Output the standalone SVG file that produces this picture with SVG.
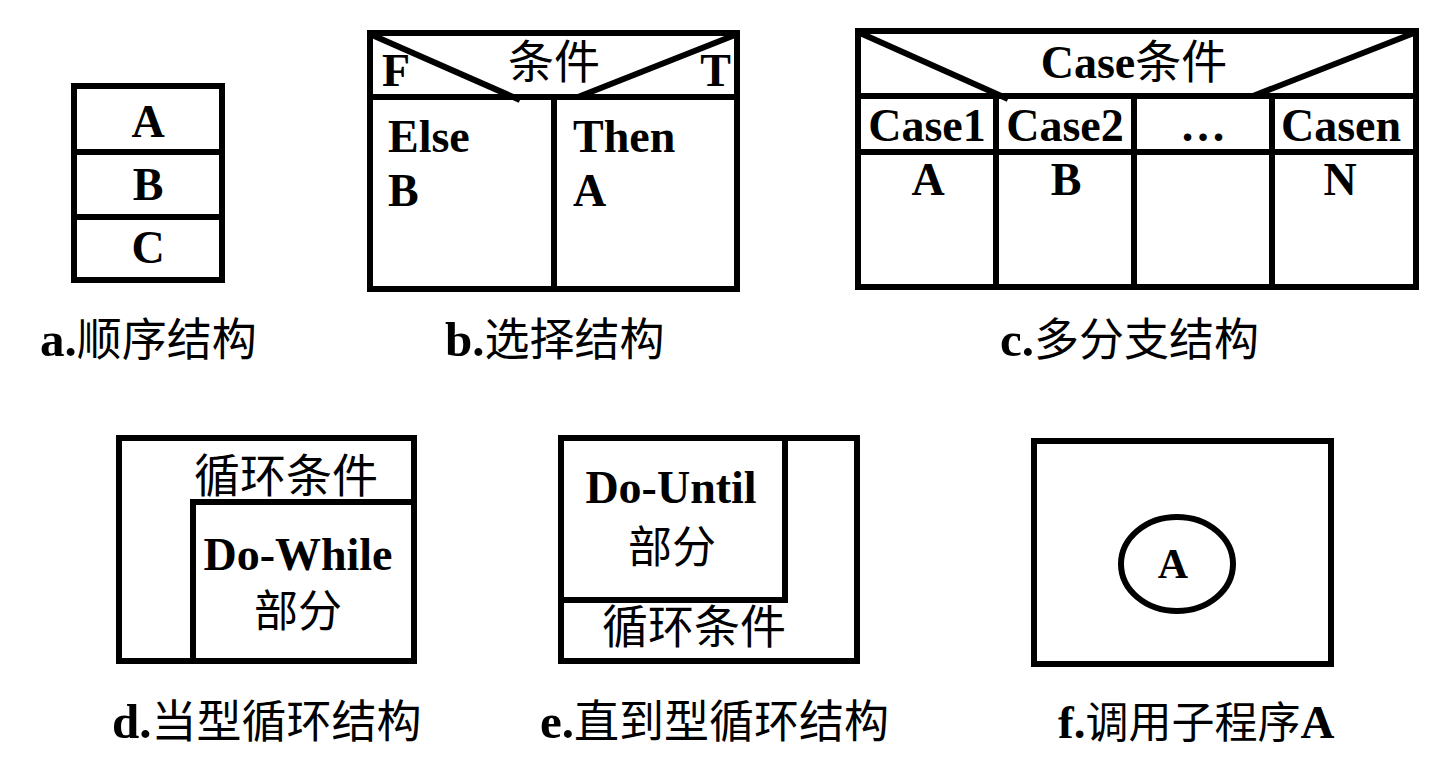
<svg xmlns="http://www.w3.org/2000/svg" width="1456" height="764" viewBox="0 0 1456 764">
<style>
.box{fill:none;stroke:#000;stroke-width:6;stroke-linejoin:miter}
.ln{stroke:#000;stroke-width:6;fill:none}
.lt{font-family:"Liberation Serif","Times New Roman",serif;font-weight:bold;font-size:46px;fill:#000}
.cj{font-family:"Noto Sans CJK SC","Noto Sans",sans-serif;font-weight:normal;font-size:46px;fill:#000}
.cap{font-family:"Noto Sans CJK SC","Noto Sans",sans-serif;font-size:45px;fill:#000}
.capl{font-family:"Liberation Serif","Times New Roman",serif;font-weight:bold;font-size:49px}
</style>
<rect width="1456" height="764" fill="#fff"/>
<g id="a">
<rect class="box" x="74" y="86" width="148" height="194"/>
<line class="ln" x1="74" y1="152" x2="222" y2="152"/>
<line class="ln" x1="74" y1="217" x2="222" y2="217"/>
<text class="lt" x="148" y="137" text-anchor="middle">A</text>
<text class="lt" x="148" y="200" text-anchor="middle">B</text>
<text class="lt" x="148" y="263" text-anchor="middle">C</text>
</g>
<g id="b">
<rect class="box" x="370" y="33" width="367" height="256"/>
<line class="ln" x1="370" y1="97" x2="737" y2="97"/>
<line class="ln" x1="554" y1="97" x2="554" y2="289"/>
<line class="ln" x1="372" y1="35" x2="520" y2="100"/>
<line class="ln" x1="735" y1="35" x2="578" y2="97"/>
<text class="lt" x="382" y="86">F</text>
<text class="lt" x="731" y="86" text-anchor="end">T</text>
<text class="cj" x="554" y="78" text-anchor="middle">条件</text>
<text class="lt" x="388" y="152">Else</text>
<text class="lt" x="388" y="206">B</text>
<text class="lt" x="573" y="152">Then</text>
<text class="lt" x="573" y="206">A</text>
</g>
<g id="c">
<rect class="box" x="858" y="31" width="558" height="256"/>
<line class="ln" x1="858" y1="96" x2="1416" y2="96"/>
<line class="ln" x1="858" y1="152" x2="1416" y2="152"/>
<line class="ln" x1="996" y1="96" x2="996" y2="287"/>
<line class="ln" x1="1134" y1="96" x2="1134" y2="287"/>
<line class="ln" x1="1272" y1="96" x2="1272" y2="287"/>
<line class="ln" x1="860" y1="33" x2="1008" y2="99"/>
<line class="ln" x1="1414" y1="33" x2="1253" y2="96"/>
<text class="lt" x="1134" y="78" text-anchor="middle">Case<tspan class="cj">条件</tspan></text>
<text class="lt" x="927" y="141" text-anchor="middle">Case1</text>
<text class="lt" x="1065" y="141" text-anchor="middle">Case2</text>
<text class="lt" x="1203" y="141" text-anchor="middle">…</text>
<text class="lt" x="1341" y="141" text-anchor="middle">Casen</text>
<text class="lt" x="928" y="195" text-anchor="middle">A</text>
<text class="lt" x="1066" y="195" text-anchor="middle">B</text>
<text class="lt" x="1340" y="195" text-anchor="middle">N</text>
</g>
<g id="d">
<rect class="box" x="119" y="438" width="295" height="223"/>
<polyline class="ln" points="193,661 193,502 414,502"/>
<text class="cj" x="286" y="492" text-anchor="middle">循环条件</text>
<text class="lt" x="298" y="570" text-anchor="middle">Do-While</text>
<text class="cj" x="298" y="627" text-anchor="middle" style="font-size:44px">部分</text>
</g>
<g id="e">
<rect class="box" x="561" y="438" width="296" height="223"/>
<polyline class="ln" points="785,438 785,600 561,600"/>
<text class="lt" x="671" y="503" text-anchor="middle">Do-Until</text>
<text class="cj" x="672" y="563" text-anchor="middle" style="font-size:44px">部分</text>
<text class="cj" x="694" y="643" text-anchor="middle">循环条件</text>
</g>
<g id="f">
<rect class="box" x="1034" y="441" width="297" height="223"/>
<ellipse cx="1177" cy="564" rx="56" ry="47" fill="none" stroke="#000" stroke-width="6"/>
<text class="lt" x="1173" y="578" text-anchor="middle" style="font-size:42px">A</text>
</g>
<g id="captions">
<text class="cap" x="40" y="356"><tspan class="capl">a.</tspan>顺序结构</text>
<text class="cap" x="445" y="356"><tspan class="capl">b.</tspan>选择结构</text>
<text class="cap" x="1000" y="356"><tspan class="capl">c.</tspan>多分支结构</text>
<text class="cap" x="112" y="738"><tspan class="capl">d.</tspan>当型循环结构</text>
<text class="cap" x="540" y="738"><tspan class="capl">e.</tspan>直到型循环结构</text>
<text class="cap" x="1058" y="738" style="font-size:43px"><tspan class="capl" style="font-size:47px">f.</tspan>调用子程序<tspan class="capl" style="font-size:47px">A</tspan></text>
</g>
<g id="connectors"/>
</svg>
